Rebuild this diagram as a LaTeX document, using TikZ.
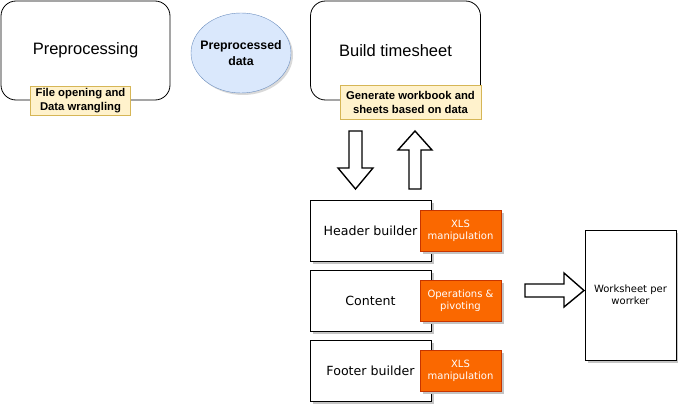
\documentclass[tikz,border=0pt]{standalone}
\usepackage{fontspec}
\setmainfont{Liberation Sans}
\newfontfamily\verdanafont{DejaVu Sans}
\usepackage{tikz}
\usetikzlibrary{shapes,shadows,positioning,calc}

\definecolor{noteFill}{HTML}{FFF2CC}
\definecolor{noteLine}{HTML}{D6B656}
\definecolor{dataFill}{HTML}{DAE8FC}
\definecolor{dataLine}{HTML}{6C8EBF}
\definecolor{taskFill}{HTML}{FA6800}
\definecolor{taskLine}{HTML}{C73500}
\definecolor{shadowGray}{HTML}{C4C4C4}

\begin{document}
\begin{tikzpicture}[
x=1pt, y=-1pt,
stage-node/.style = {rectangle,rounded corners=15pt,draw=black,thick,fill=white,
  inner sep=0pt,minimum width=169pt,minimum height=99pt,font=\fontsize{16.5}{19}\selectfont},
note-node/.style = {rectangle,draw=noteLine,fill=noteFill,inner sep=0pt,align=center,
  font=\fontsize{11.3}{13.3}\selectfont\bfseries},
data-node/.style = {ellipse,draw=dataLine,fill=dataFill,inner sep=-8pt,minimum width=100pt,
  minimum height=80pt,align=center,font=\fontsize{12.3}{16}\selectfont\bfseries,
  drop shadow={shadow xshift=2pt,shadow yshift=-2pt,opacity=0.3}},
part-node/.style = {rectangle,draw=black,thick,fill=white,inner sep=0pt,minimum width=121pt,
  minimum height=61pt,font=\verdanafont\fontsize{12.6}{14}\selectfont,
  drop shadow={shadow xshift=3pt,shadow yshift=-3pt,fill=shadowGray,opacity=1}},
task-node/.style = {rectangle,draw=taskLine,fill=taskFill,text=white,inner sep=0pt,minimum width=81pt,
  minimum height=41pt,align=center,font=\verdanafont\fontsize{10}{12}\selectfont,
  drop shadow={shadow xshift=3pt,shadow yshift=-3pt,fill=shadowGray,opacity=1}},
block-arrow/.style = {draw=black,line width=1.4pt,fill=white,line join=miter}
]

\useasboundingbox (0,0) rectangle (678,404);

% top row
\node [stage-node] (pre) at (85.5,50.5) {Preprocessing};
\node [note-node, minimum width=100pt, minimum height=29pt] (preNote) at (80.5,100.5)
  {File opening and\\Data wrangling};
\node [data-node] (data) at (241,53) {Preprocessed\\data};
\node [stage-node, minimum width=170pt] (build) at (395.5,50.5) {Build timesheet};
\node [note-node, minimum width=141pt, minimum height=34pt] (buildNote) at (410.5,102.5)
  {Generate workbook and\\sheets based on data};

% builders
\node [part-node] (header) at (370.5,230.5) {Header builder};
\node [part-node] (content) at (370.5,300.5) {Content};
\node [part-node] (footer) at (370.5,370.5) {Footer builder};
\node [task-node] (headerTask) at (460.5,230.5) {XLS\\manipulation};
\node [task-node] (contentTask) at (460.5,300.5) {Operations \&\\pivoting};
\node [task-node] (footerTask) at (460.5,370.5) {XLS\\manipulation};

% output
\node [part-node, minimum width=91pt, minimum height=130pt, align=center,
  font=\verdanafont\fontsize{10}{12}\selectfont] (sheet) at (630.5,295) {Worksheet per\\worrker};

% block arrows
\draw [block-arrow] (349,131) -- (362,131) -- (362,168) -- (373,168) -- (355.5,189)
  -- (338,168) -- (349,168) -- cycle;
\draw [block-arrow] (409,189) -- (421,189) -- (421,150) -- (432,150) -- (415,131)
  -- (398,150) -- (409,150) -- cycle;
\draw [block-arrow] (525,284) -- (564,284) -- (564,273) -- (584,290.5) -- (564,307)
  -- (564,297) -- (525,297) -- cycle;

\end{tikzpicture}
\end{document}
